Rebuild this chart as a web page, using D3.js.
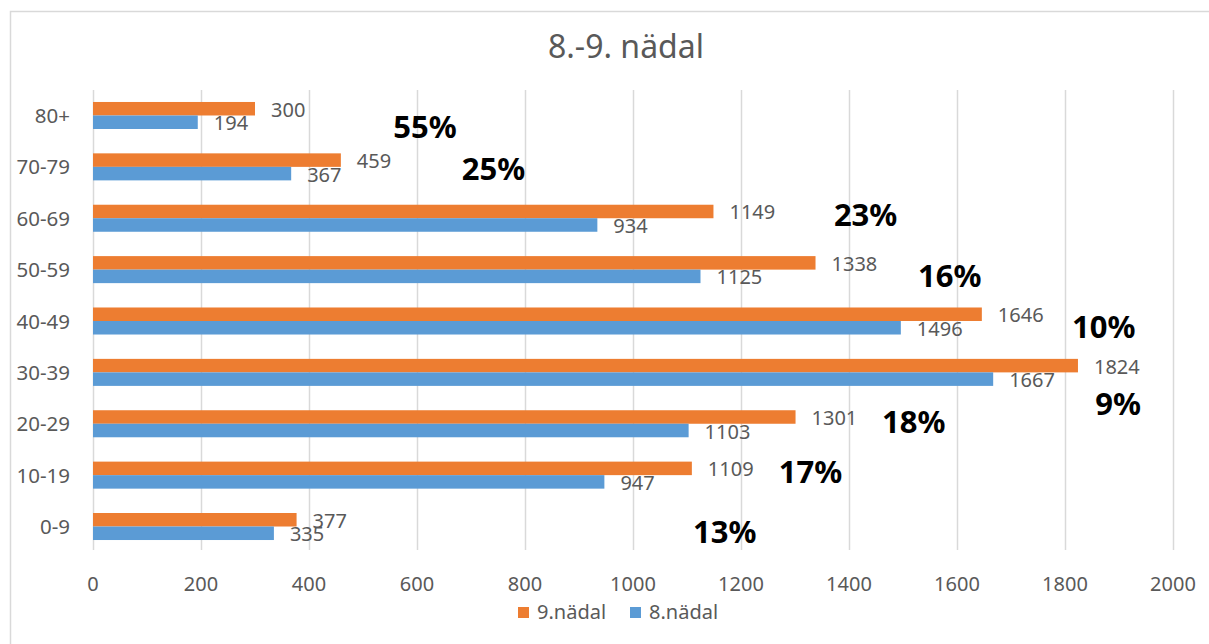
<!DOCTYPE html>
<html>
<head>
<meta charset="utf-8">
<script src="https://cdn.jsdelivr.net/npm/d3@7"></script>
<style>
  html, body { margin: 0; padding: 0; background: #fff; }
  svg { display: block; font-family: "Noto Sans", "Open Sans", sans-serif; }
</style>
</head>
<body>
<svg id="chart" width="1209" height="644"></svg>
<script>
// ---- data ----
const categories = ["80+", "70-79", "60-69", "50-59", "40-49", "30-39", "20-29", "10-19", "0-9"];
const week9 = [300, 459, 1149, 1338, 1646, 1824, 1301, 1109, 377];
const week8 = [194, 367, 934, 1125, 1496, 1667, 1103, 947, 335];
const seriesNames = ["9.nädal", "8.nädal"];
const xTicks = [0, 200, 400, 600, 800, 1000, 1200, 1400, 1600, 1800, 2000];
const titleText = "8.-9. nädal";
// percentage annotations: text, anchor value (x units), anchor category, offset in bands
const pctLabels = ["55%", "25%", "23%", "16%", "10%", "9%", "18%", "17%", "13%"];
const pctValue  = [556, 683, 1372, 1528, 1813, 1856, 1461, 1270, 1111];
const pctCat    = ["80+", "70-79", "60-69", "50-59", "40-49", "30-39", "20-29", "10-19", "0-9"];
const pctOffset = [0.44, 0.25, 0.15, 0.34, 0.33, 0.83, 0.18, 0.15, 0.32];

// ---- styles ----
const colors = ["#ED7D31", "#5B9BD5"];
const textGray = "#595959";

const svg = d3.select("#chart");

// outer border
svg.append("rect")
  .attr("x", 10.5).attr("y", 11.5)
  .attr("width", 1300).attr("height", 700)
  .attr("fill", "none").attr("stroke", "#D9D9D9").attr("stroke-width", 1.5);

const x = d3.scaleLinear().domain([0, 2000]).range([93, 1173]);
const y = d3.scaleBand().domain(categories).range([89.8, 552.2]).padding(0);
const barH = y.bandwidth() * 0.263;
const center = c => y(c) + y.bandwidth() / 2;

// gridlines
svg.append("g").selectAll("line").data(xTicks).join("line")
  .attr("x1", d => x(d) + 0.5).attr("x2", d => x(d) + 0.5)
  .attr("y1", 90).attr("y2", 550)
  .attr("stroke", "#D9D9D9").attr("stroke-width", 1.5);

// x axis labels
svg.append("g").selectAll("text").data(xTicks).join("text")
  .attr("x", d => x(d)).attr("y", 591)
  .attr("text-anchor", "middle")
  .attr("font-size", 20).attr("fill", textGray)
  .text(d => d);

// category labels
svg.append("g").selectAll("text").data(categories).join("text")
  .attr("x", 70).attr("y", d => center(d) + 7.5)
  .attr("text-anchor", "end")
  .attr("font-size", 20.5).attr("fill", textGray)
  .text(d => d);

// bars
const series = [week9, week8];
series.forEach((vals, si) => {
  const g = svg.append("g");
  g.selectAll("rect").data(vals).join("rect")
    .attr("x", x(0))
    .attr("y", (d, i) => center(categories[i]) + (si === 0 ? -barH : 0))
    .attr("width", d => x(d) - x(0))
    .attr("height", barH)
    .attr("fill", colors[si]);
  g.selectAll("text").data(vals).join("text")
    .attr("x", d => x(d) + 16)
    .attr("y", (d, i) => center(categories[i]) + (si === 0 ? -barH / 2 : barH / 2) + 8)
    .attr("font-size", 20).attr("fill", textGray)
    .text(d => d);
});

// percentage annotations
svg.append("g").selectAll("text").data(pctLabels).join("text")
  .attr("x", (d, i) => x(pctValue[i]))
  .attr("y", (d, i) => center(pctCat[i]) + pctOffset[i] * y.step())
  .attr("font-size", 31).attr("font-weight", "bold").attr("fill", "#000")
  .text(d => d);

// title
svg.append("text")
  .attr("x", 626).attr("y", 58)
  .attr("text-anchor", "middle")
  .attr("font-size", 32).attr("fill", textGray)
  .text(titleText);

// legend
const legendX = [518, 630];
const leg = svg.append("g").selectAll("g").data(seriesNames).join("g");
leg.append("rect")
  .attr("x", (d, i) => legendX[i]).attr("y", 607)
  .attr("width", 11).attr("height", 11)
  .attr("fill", (d, i) => colors[i]);
leg.append("text")
  .attr("x", (d, i) => legendX[i] + 19).attr("y", 619)
  .attr("font-size", 20).attr("fill", textGray)
  .text(d => d);
</script>
</body>
</html>
